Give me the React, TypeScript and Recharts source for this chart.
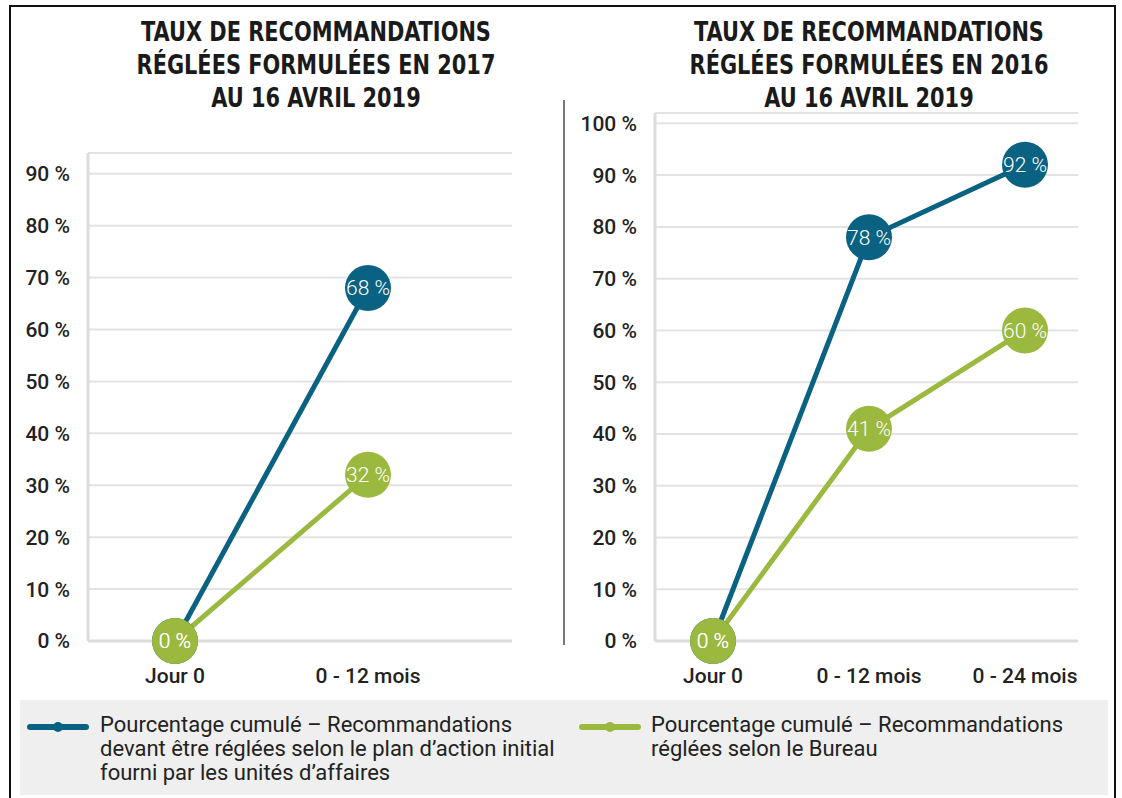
import React from "react";
import { LineChart, Line, XAxis, YAxis, CartesianGrid, LabelList } from "recharts";

const BLUE = "#0a6282";
const GREEN = "#9bb83f";

// recommandations formulées en 2017
const categories2017 = ["Jour 0", "0 - 12 mois"];
const plan2017 = [0, 68];
const bureau2017 = [0, 32];
const ticks2017 = [0, 10, 20, 30, 40, 50, 60, 70, 80, 90];

// recommandations formulées en 2016
const categories2016 = ["Jour 0", "0 - 12 mois", "0 - 24 mois"];
const plan2016 = [0, 78, 92];
const bureau2016 = [0, 41, 60];
const ticks2016 = [0, 10, 20, 30, 40, 50, 60, 70, 80, 90, 100];

const title2017 = ["TAUX DE RECOMMANDATIONS", "RÉGLÉES FORMULÉES EN 2017", "AU 16 AVRIL 2019"];
const title2016 = ["TAUX DE RECOMMANDATIONS", "RÉGLÉES FORMULÉES EN 2016", "AU 16 AVRIL 2019"];

const legendPlan = [
  "Pourcentage cumulé – Recommandations",
  "devant être réglées selon le plan d’action initial",
  "fourni par les unités d’affaires",
];
const legendBureau = ["Pourcentage cumulé – Recommandations", "réglées selon le Bureau"];

const FONT = "Roboto, 'Noto Sans', sans-serif";
const TITLE_FONT = "'Liberation Sans Narrow', 'DejaVu Sans Condensed', 'Noto Sans', sans-serif";

interface PanelProps {
  categories: string[];
  plan: number[];
  bureau: number[];
  ticks: number[];
  yMax: number;
  marginTop: number;
  marginRight: number;
  yWidth: number;
  padLeft: number;
  padRight: number;
}

const pct = (v: any) => `${v} %`;

const Panel: React.FC<PanelProps> = (p) => {
  const data = p.categories.map((c, i) => ({ name: c, plan: p.plan[i], bureau: p.bureau[i] }));
  const tickStyle = { fill: "#222", fontSize: 21, fontWeight: 500, fontFamily: FONT };
  return (
    <LineChart
      width={560}
      height={601}
      data={data}
      margin={{ top: p.marginTop, right: p.marginRight, bottom: 0, left: 0 }}
    >
      <CartesianGrid vertical={false} stroke="#e3e3e3" strokeWidth={2} />
      <XAxis
        dataKey="name"
        height={60}
        padding={{ left: p.padLeft, right: p.padRight }}
        axisLine={{ stroke: "#dcdcdc", strokeWidth: 3 }}
        tickLine={false}
        tickMargin={21}
        tick={tickStyle}
      />
      <YAxis
        domain={[0, p.yMax]}
        ticks={p.ticks}
        width={p.yWidth}
        axisLine={{ stroke: "#dcdcdc", strokeWidth: 3 }}
        tickLine={false}
        tickMargin={12}
        tick={tickStyle}
        tickFormatter={pct}
      />
      <Line
        dataKey="plan"
        stroke={BLUE}
        strokeWidth={5}
        dot={{ r: 23, fill: BLUE, stroke: "none" }}
        activeDot={false}
        isAnimationActive={false}
      >
        <LabelList
          dataKey="plan"
          position="center"
          fill="#fff"
          fontSize={21}
          fontWeight={300}
          fontFamily={FONT}
          formatter={pct}
        />
      </Line>
      <Line
        dataKey="bureau"
        stroke={GREEN}
        strokeWidth={5}
        dot={{ r: 23, fill: GREEN, stroke: "none" }}
        activeDot={false}
        isAnimationActive={false}
      >
        <LabelList
          dataKey="bureau"
          position="center"
          fill="#fff"
          fontSize={21}
          fontWeight={300}
          fontFamily={FONT}
          formatter={pct}
        />
      </Line>
    </LineChart>
  );
};

const Title: React.FC<{ lines: string[]; left: number }> = ({ lines, left }) => (
  <div
    style={{
      position: "absolute",
      left,
      top: 15,
      width: 512,
      textAlign: "center",
      fontFamily: TITLE_FONT,
      fontWeight: 700,
      fontSize: 27,
      lineHeight: "33px",
      color: "#1a1a1a",
      transform: "scaleX(0.86)",
      transformOrigin: "center",
    }}
  >
    {lines.map((l) => (
      <div key={l}>{l}</div>
    ))}
  </div>
);

const LegendItem: React.FC<{ color: string; lines: string[]; iconLeft: number; textLeft: number }> = ({
  color,
  lines,
  iconLeft,
  textLeft,
}) => (
  <>
    <svg style={{ position: "absolute", left: iconLeft, top: 717 }} width={64} height={20}>
      <line x1={4} y1={10} x2={60} y2={10} stroke={color} strokeWidth={6} strokeLinecap="round" />
      <circle cx={32} cy={10} r={5} fill={color} />
    </svg>
    <div
      style={{
        position: "absolute",
        left: textLeft,
        top: 713,
        fontFamily: FONT,
        fontSize: 22,
        lineHeight: "24px",
        color: "#222",
        whiteSpace: "nowrap",
      }}
    >
      {lines.map((l) => (
        <div key={l}>{l}</div>
      ))}
    </div>
  </>
);

export default function App() {
  return (
    <div
      style={{
        position: "fixed",
        left: 0,
        top: 0,
        width: 1122,
        height: 798,
        overflow: "hidden",
        background: "#fff",
        fontFamily: FONT,
      }}
    >
      <div
        style={{
          position: "absolute",
          left: 9,
          top: 5,
          width: 1107,
          height: 900,
          boxSizing: "border-box",
          border: "2px solid #111",
        }}
      />
      <div style={{ position: "absolute", left: 563, top: 100, width: 2, height: 545, background: "#777" }} />

      <Title lines={title2017} left={60} />
      <Title lines={title2016} left={613} />

      <div style={{ position: "absolute", left: 0, top: 100 }}>
        <Panel
          categories={categories2017}
          plan={plan2017}
          bureau={bureau2017}
          ticks={ticks2017}
          yMax={94}
          marginTop={53}
          marginRight={48}
          yWidth={88}
          padLeft={87}
          padRight={144}
        />
      </div>
      <div style={{ position: "absolute", left: 563, top: 100 }}>
        <Panel
          categories={categories2016}
          plan={plan2016}
          bureau={bureau2016}
          ticks={ticks2016}
          yMax={102}
          marginTop={13}
          marginRight={45}
          yWidth={92}
          padLeft={58}
          padRight={53}
        />
      </div>

      <div style={{ position: "absolute", left: 20, top: 700, width: 1088, height: 95, background: "#efefef" }} />
      <LegendItem color={BLUE} lines={legendPlan} iconLeft={26} textLeft={100} />
      <LegendItem color={GREEN} lines={legendBureau} iconLeft={578} textLeft={651} />
    </div>
  );
}
